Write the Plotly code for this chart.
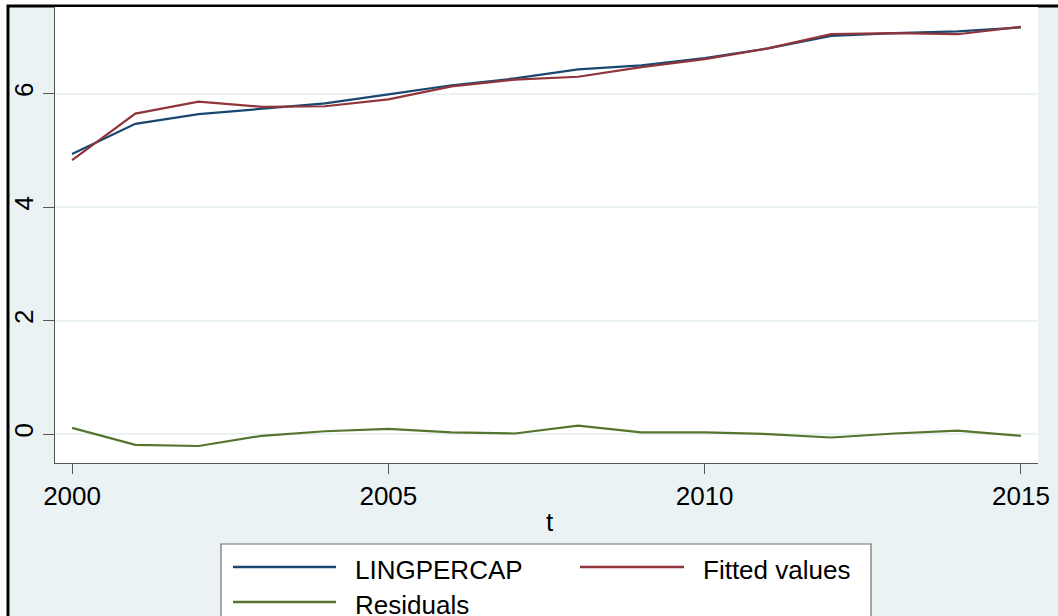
import plotly.graph_objects as go

years = list(range(2000, 2016))
lingpercap = [4.94, 5.47, 5.64, 5.74, 5.83, 5.99, 6.15, 6.27, 6.43, 6.50, 6.63, 6.80, 7.02, 7.07, 7.10, 7.17]
fitted = [4.83, 5.65, 5.86, 5.77, 5.78, 5.90, 6.13, 6.25, 6.30, 6.47, 6.61, 6.80, 7.05, 7.07, 7.05, 7.18]
residuals = [0.11, -0.19, -0.21, -0.03, 0.05, 0.09, 0.03, 0.01, 0.15, 0.03, 0.03, 0.00, -0.06, 0.01, 0.06, -0.03]

x_ticks = [2000, 2005, 2010, 2015]
y_ticks = [0, 2, 4, 6]

series_names = ["LINGPERCAP", "Fitted values", "Residuals"]
colors = ["#1A476F", "#90353B", "#55752F"]

W, H = 1058, 616
L, R, T, B = 55, 20, 7, 153
PW, PH = W - L - R, H - T - B
FONT = "Liberation Sans, Arial, sans-serif"
BG = "#EAF2F3"


def px(xp):
    return (xp - L) / PW


def py(yp):
    return (H - B - yp) / PH


fig = go.Figure()
for name, vals, col in zip(series_names, [lingpercap, fitted, residuals], colors):
    fig.add_trace(go.Scatter(x=years, y=vals, mode="lines", name=name,
                             line=dict(color=col, width=2.2), showlegend=False))

shapes = [
    # graph region with black frame (left/top visible)
    dict(type="rect", xref="paper", yref="paper", layer="below",
         x0=px(8), x1=px(1075), y0=py(6), y1=py(640),
         fillcolor=BG, line=dict(color="black", width=3)),
    # plot area
    dict(type="rect", xref="paper", yref="paper", layer="below",
         x0=0, x1=1, y0=0, y1=1, fillcolor="white", line=dict(width=0)),
    # legend box
    dict(type="rect", xref="paper", yref="paper", layer="above",
         x0=px(221), x1=px(871), y0=py(544), y1=py(640),
         fillcolor="white", line=dict(color="#6E6E6E", width=1.2)),
]

annotations = []
legend_pos = [(233, 336, 353, 567), (580, 684, 701, 567), (233, 336, 353, 602)]
for (lx0, lx1, tx, ly), name, col in zip(legend_pos, series_names, colors):
    shapes.append(dict(type="line", xref="paper", yref="paper", layer="above",
                       x0=px(lx0), x1=px(lx1), y0=py(ly), y1=py(ly),
                       line=dict(color=col, width=2.5)))
    annotations.append(dict(xref="paper", yref="paper", x=px(tx), y=py(ly + 3),
                            text=name, showarrow=False, xanchor="left", yanchor="middle",
                            font=dict(family=FONT, size=26, color="black")))

annotations.append(dict(xref="paper", yref="paper", x=px(550), y=py(522), text="t",
                        showarrow=False, xanchor="center", yanchor="middle",
                        font=dict(family=FONT, size=26, color="black")))

fig.update_layout(
    width=W, height=H,
    margin=dict(l=L, r=R, t=T, b=B, pad=0),
    paper_bgcolor="white",
    plot_bgcolor="rgba(0,0,0,0)",
    shapes=shapes,
    annotations=annotations,
    font=dict(family=FONT, size=26, color="black"),
    xaxis=dict(range=[1999.73, 2015.27], tickvals=x_ticks, ticktext=[str(v) for v in x_ticks],
               showgrid=False, zeroline=False, showline=True, linecolor="#555555", linewidth=1,
               ticks="outside", ticklen=10, tickcolor="#555555", tickwidth=1,
               tickfont=dict(family=FONT, size=26, color="black")),
    yaxis=dict(range=[-0.51, 7.53], tickvals=y_ticks, ticktext=[str(v) for v in y_ticks],
               showgrid=True, gridcolor=BG, gridwidth=2, zeroline=False,
               showline=True, linecolor="#555555", linewidth=1,
               ticks="outside", ticklen=11, tickcolor="#555555", tickwidth=1,
               tickangle=-90,
               tickfont=dict(family=FONT, size=26, color="black")),
)

fig.write_html("out.html",
               config={"displayModeBar": False},
               post_script="document.body.style.margin='0px';document.body.style.overflow='hidden';")
